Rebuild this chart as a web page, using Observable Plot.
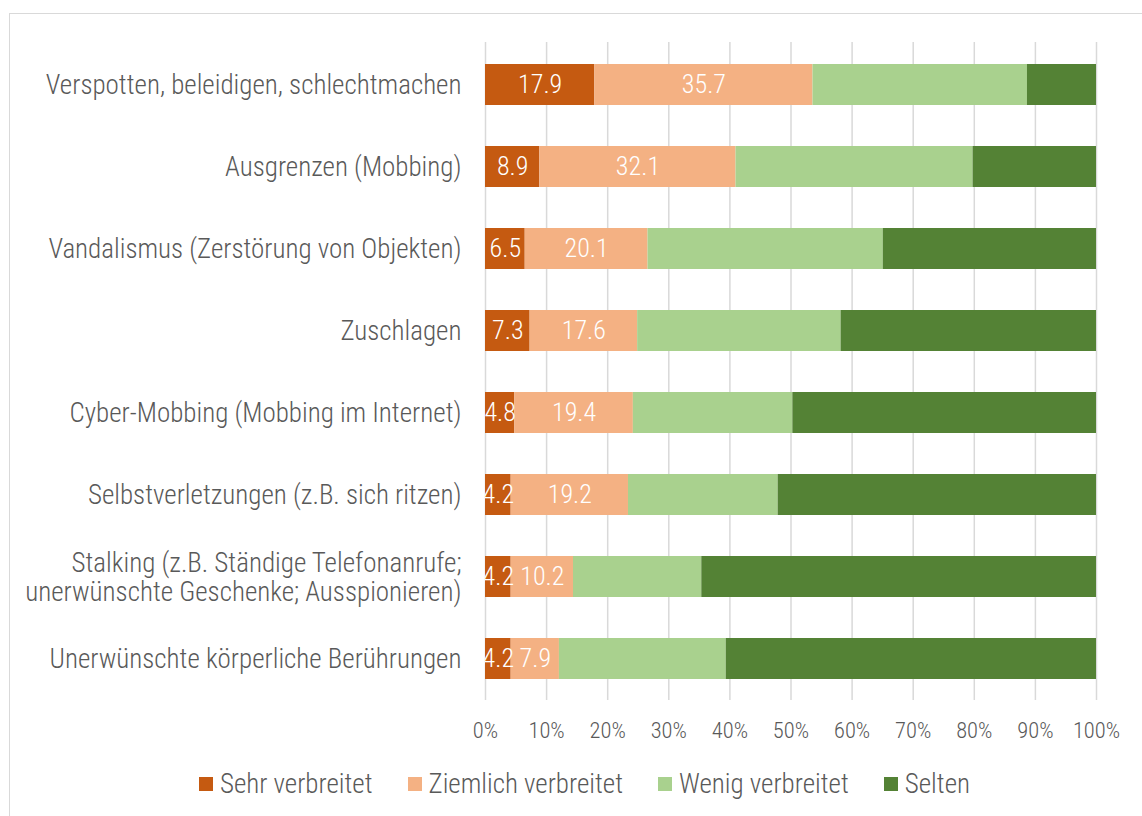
<!DOCTYPE html>
<html><head><meta charset="utf-8">
<script src="https://cdn.jsdelivr.net/npm/d3@7"></script>
<script src="https://cdn.jsdelivr.net/npm/@observablehq/plot@0.6"></script>
<style>
body{margin:0;background:#fff;font-family:"Roboto Condensed","Liberation Sans Narrow","DejaVu Sans Condensed",sans-serif;font-weight:300;}
#frame{position:absolute;left:9px;top:13px;width:1140px;height:810px;border:1px solid #d9d9d9;box-sizing:border-box;}
#chart{position:absolute;left:0;top:0;}
#legend{position:absolute;left:0;top:768px;width:1169px;display:flex;justify-content:center;gap:35px;font-size:27px;color:#595959;}
#legend .item{display:flex;align-items:center;gap:7px;}
#legend .sw{width:14px;height:14px;display:inline-block;}
</style></head><body>
<div id="frame"></div>
<div id="chart"></div>
<div id="legend"></div>
<script>
const categories = [
  "Verspotten, beleidigen, schlechtmachen",
  "Ausgrenzen (Mobbing)",
  "Vandalismus (Zerstörung von Objekten)",
  "Zuschlagen",
  "Cyber-Mobbing (Mobbing im Internet)",
  "Selbstverletzungen (z.B. sich ritzen)",
  "Stalking (z.B. Ständige Telefonanrufe;\nunerwünschte Geschenke; Ausspionieren)",
  "Unerwünschte körperliche Berührungen"
];
const seriesNames = ["Sehr verbreitet", "Ziemlich verbreitet", "Wenig verbreitet", "Selten"];
const colors = ["#C55A11", "#F4B183", "#A9D18E", "#548235"];
const sehr     = [17.9, 8.9, 6.5, 7.3, 4.8, 4.2, 4.2, 4.2];
const ziemlich = [35.7, 32.1, 20.1, 17.6, 19.4, 19.2, 10.2, 7.9];
const wenig    = [35.1, 38.8, 38.5, 33.3, 26.1, 24.5, 21.0, 27.3];
const selten   = [11.3, 20.2, 34.9, 41.8, 49.7, 52.1, 64.6, 60.6];
const xTicks = [0, 10, 20, 30, 40, 50, 60, 70, 80, 90, 100];

const seriesValues = [sehr, ziemlich, wenig, selten];
const data = [];
categories.forEach((c, i) => {
  seriesNames.forEach((s, j) => data.push({category: c, series: s, value: seriesValues[j][i]}));
});
const labeled = data.filter(d => d.series === seriesNames[0] || d.series === seriesNames[1]);

const font = '"Roboto Condensed","Liberation Sans Narrow","DejaVu Sans Condensed",sans-serif';
const chart = Plot.plot({
  width: 1142,
  height: 760,
  marginLeft: 485,
  marginRight: 46,
  marginTop: 42,
  marginBottom: 60,
  style: {fontFamily: font, fontWeight: 300, background: "transparent"},
  x: {domain: [0, 100], label: null},
  y: {domain: categories, paddingInner: 0.5, paddingOuter: 0.25, label: null},
  color: {domain: seriesNames, range: colors},
  marks: [
    Plot.ruleX(xTicks, {stroke: "#d9d9d9", strokeWidth: 1.5}),
    Plot.barX(data, {x: "value", y: "category", fill: "series", order: seriesNames}),
    Plot.textX(labeled, Plot.stackX({x: "value", y: "category", z: "series", text: d => d.value.toFixed(1), fill: "white", fontSize: 26, clip: true})),
    Plot.axisY({tickSize: 0, tickPadding: 24, fontSize: 27, color: "#595959", lineHeight: 1.08, label: null}),
    Plot.axisX(xTicks, {tickSize: 0, tickPadding: 22, fontSize: 22.5, color: "#595959", tickFormat: d => d + "%", label: null})
  ]
});
document.getElementById("chart").appendChild(chart);

const legend = document.getElementById("legend");
seriesNames.forEach((s, i) => {
  const it = document.createElement("div");
  it.className = "item";
  it.innerHTML = `<span class="sw" style="background:${colors[i]}"></span><span>${s}</span>`;
  legend.appendChild(it);
});
</script>
</body></html>
